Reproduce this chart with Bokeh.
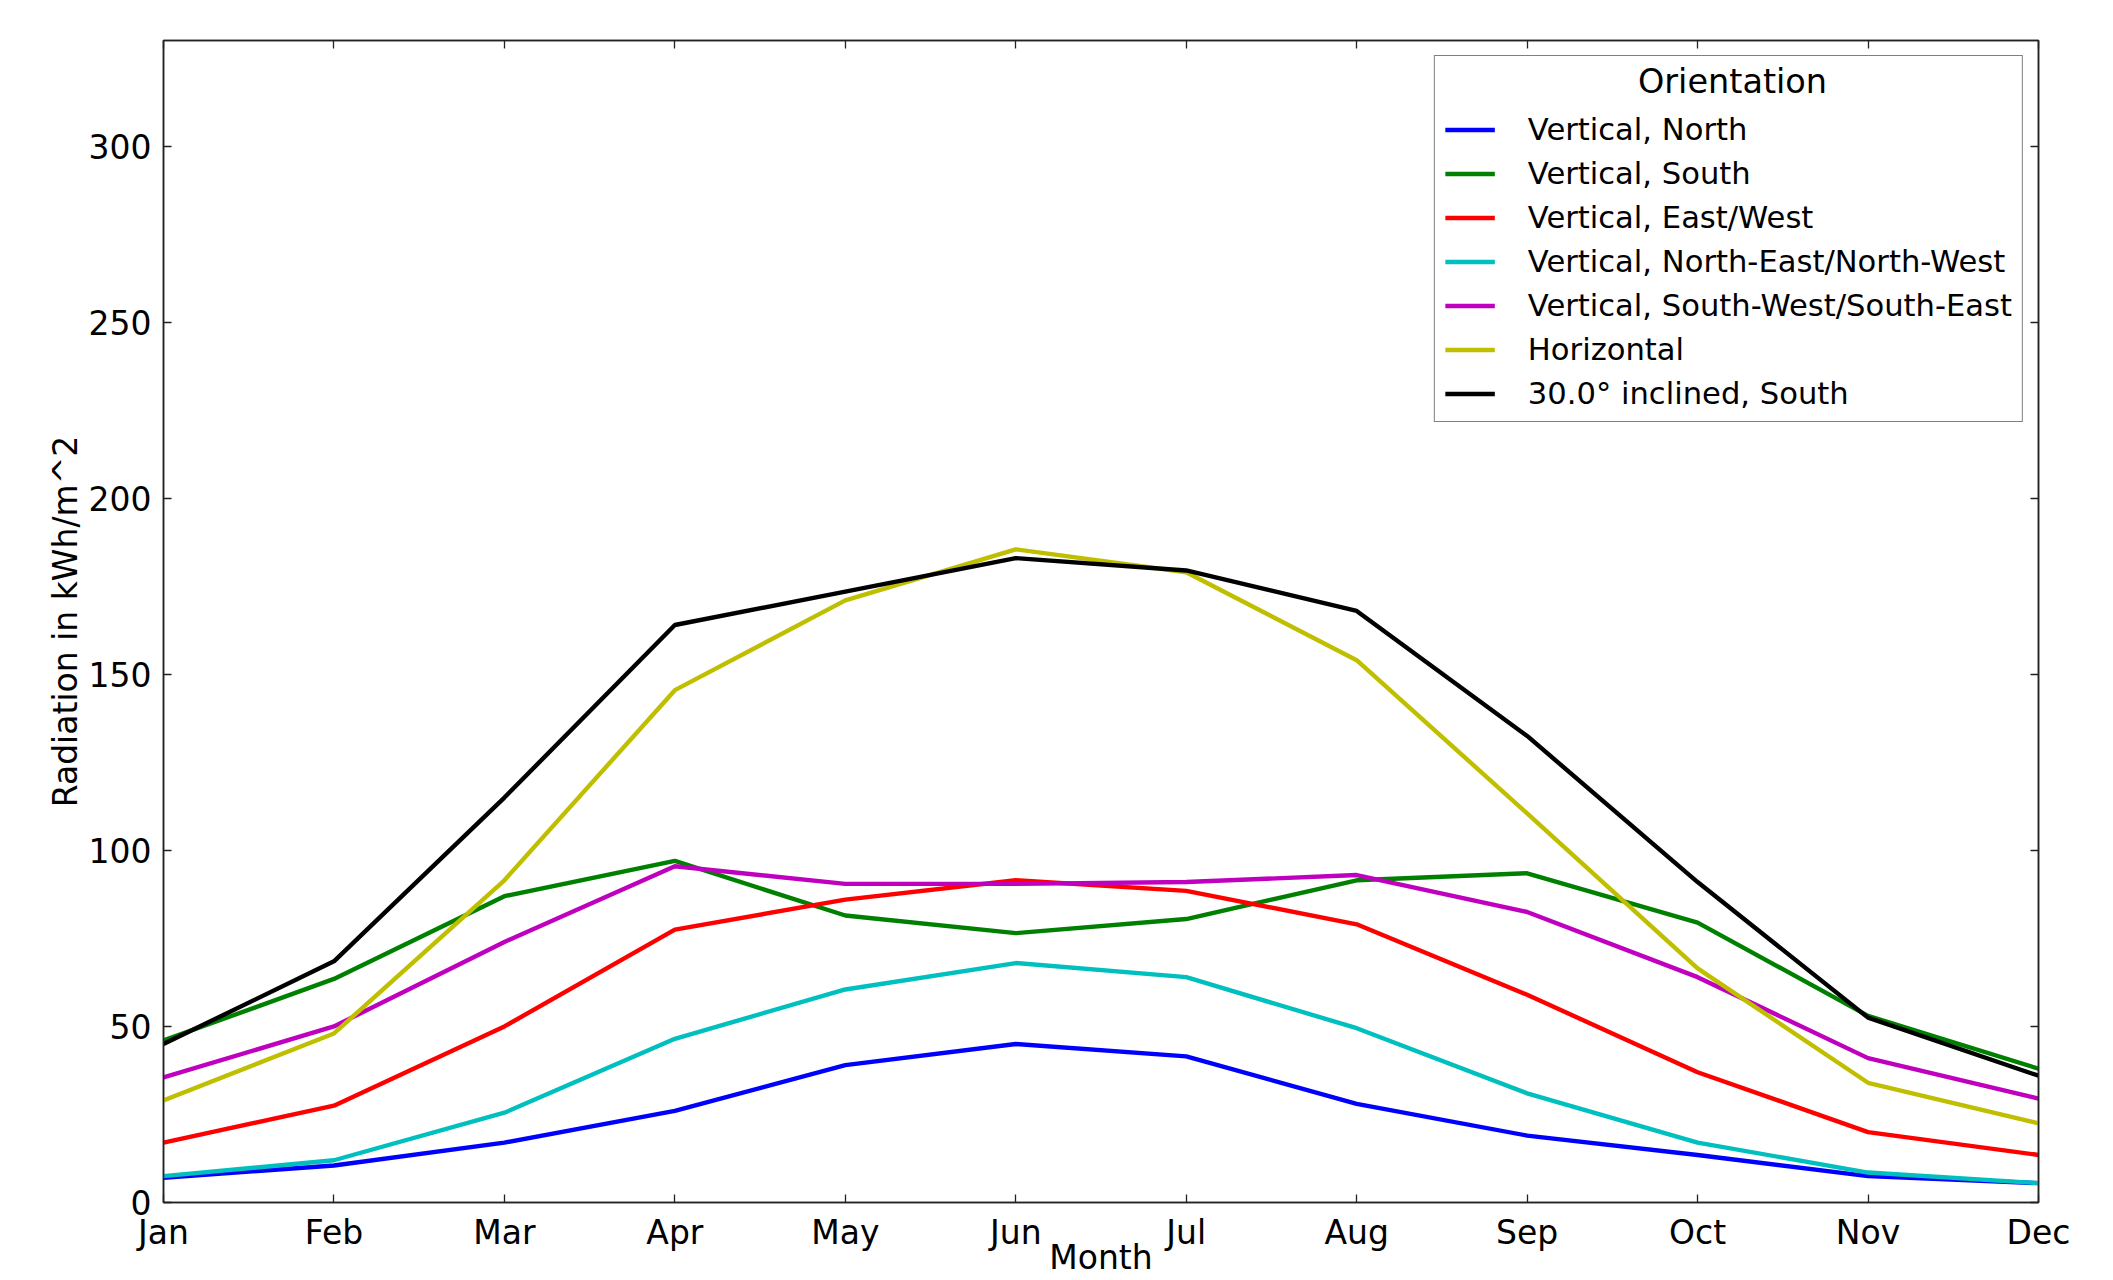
from bokeh.plotting import figure
from bokeh.models import FixedTicker, LinearAxis, Legend, LegendItem, Label, Range1d
from bokeh.embed import file_html
from bokeh.resources import INLINE

months = ["Jan", "Feb", "Mar", "Apr", "May", "Jun", "Jul", "Aug", "Sep", "Oct", "Nov", "Dec"]
y_ticks = [0, 50, 100, 150, 200, 250, 300]

series_names = [
    "Vertical, North",
    "Vertical, South",
    "Vertical, East/West",
    "Vertical, North-East/North-West",
    "Vertical, South-West/South-East",
    "Horizontal",
    "30.0\u00b0 inclined, South",
]
vertical_north = [7, 10.5, 17, 26, 39, 45, 41.5, 28, 19, 13.5, 7.5, 5.5]
vertical_south = [46, 63.5, 87, 97, 81.5, 76.5, 80.5, 91.5, 93.5, 79.5, 53, 38]
vertical_east_west = [17, 27.5, 50, 77.5, 86, 91.5, 88.5, 79, 59, 37, 20, 13.5]
vertical_ne_nw = [7.5, 12, 25.5, 46.5, 60.5, 68, 64, 49.5, 31, 17, 8.5, 5.5]
vertical_sw_se = [35.5, 50, 74, 95.5, 90.5, 90.5, 91, 93, 82.5, 64, 41, 29.5]
horizontal = [29, 48, 91.5, 145.5, 171, 185.5, 179, 154, 110.5, 66.5, 34, 22.5]
inclined_south = [45, 68.5, 115, 164, 173.5, 183, 179.5, 168, 132.5, 91, 52.5, 36]

series_values = [vertical_north, vertical_south, vertical_east_west, vertical_ne_nw,
                 vertical_sw_se, horizontal, inclined_south]
colors = ["#0000ff", "#008000", "#ff0000", "#00bfbf", "#bf00bf", "#bfbf00", "#000000"]

FONT = "DejaVu Sans"
x_idx = list(range(len(months)))

p = figure(width=2113, height=1280, output_backend="svg", toolbar_location=None,
           x_range=Range1d(0, len(months) - 1), y_range=Range1d(0, 330),
           min_border_left=163, min_border_right=75, min_border_top=40, min_border_bottom=78)
p.xgrid.visible = False
p.ygrid.visible = False
p.outline_line_color = "#222222"
p.outline_line_width = 1.5
p.background_fill_color = "white"
p.border_fill_color = "white"

def style_axis(ax, ticks, labels=True, standoff=10):
    ax.ticker = FixedTicker(ticks=ticks)
    ax.major_tick_in = 8
    ax.major_tick_out = 0
    ax.minor_tick_line_color = None
    ax.axis_line_color = "#222222"
    ax.axis_line_width = 1.5
    ax.major_tick_line_color = "#222222"
    ax.major_tick_line_width = 1.3
    ax.major_label_text_font = FONT
    if labels:
        ax.major_label_text_color = "black"
        ax.major_label_text_font_size = "33px"
        ax.major_label_standoff = standoff
    else:
        ax.major_label_text_color = None
        ax.major_label_text_font_size = "8px"
        ax.major_label_standoff = 0

style_axis(p.xaxis[0], x_idx, True, 10)
p.xaxis[0].major_label_overrides = {i: m for i, m in enumerate(months)}
p.xaxis[0].axis_label = "Month"
p.xaxis[0].axis_label_text_font = FONT
p.xaxis[0].axis_label_text_font_size = "33px"
p.xaxis[0].axis_label_text_font_style = "normal"
p.xaxis[0].axis_label_text_color = "black"
p.xaxis[0].axis_label_standoff = -17

style_axis(p.yaxis[0], y_ticks, True, 12)
p.yaxis[0].axis_label = "Radiation in kWh/m^2"
p.yaxis[0].axis_label_text_font = FONT
p.yaxis[0].axis_label_text_font_size = "33px"
p.yaxis[0].axis_label_text_font_style = "normal"
p.yaxis[0].axis_label_text_color = "black"
p.yaxis[0].axis_label_standoff = 1

top_axis = LinearAxis()
style_axis(top_axis, x_idx, False)
p.add_layout(top_axis, "above")
right_axis = LinearAxis()
style_axis(right_axis, y_ticks, False)
p.add_layout(right_axis, "right")

items = []
for name, vals, col in zip(series_names, series_values, colors):
    r = p.line(x_idx, vals, line_color=col, line_width=4.4)
    items.append(LegendItem(label=name, renderers=[r]))

legend = Legend(items=items, location="top_right", title=" ")
legend.margin = 15
legend.padding = 10
legend.spacing = 9
legend.label_height = 29
legend.glyph_height = 29
legend.glyph_width = 50
legend.label_standoff = 33
legend.label_text_font = FONT
legend.label_text_font_size = "30.6px"
legend.label_text_color = "black"
legend.title_text_font = FONT
legend.title_text_font_size = "31px"
legend.title_text_font_style = "normal"
legend.title_standoff = 10
legend.border_line_color = "black"
legend.border_line_width = 1.5
legend.background_fill_alpha = 0.0
p.add_layout(legend)

orient = Label(x=9.205, y=318.4, text="Orientation",
               text_font=FONT, text_font_size="33.5px", text_align="center",
               text_baseline="middle", text_color="black")
p.add_layout(orient)

open("out.html", "w").write(file_html(p, INLINE))
